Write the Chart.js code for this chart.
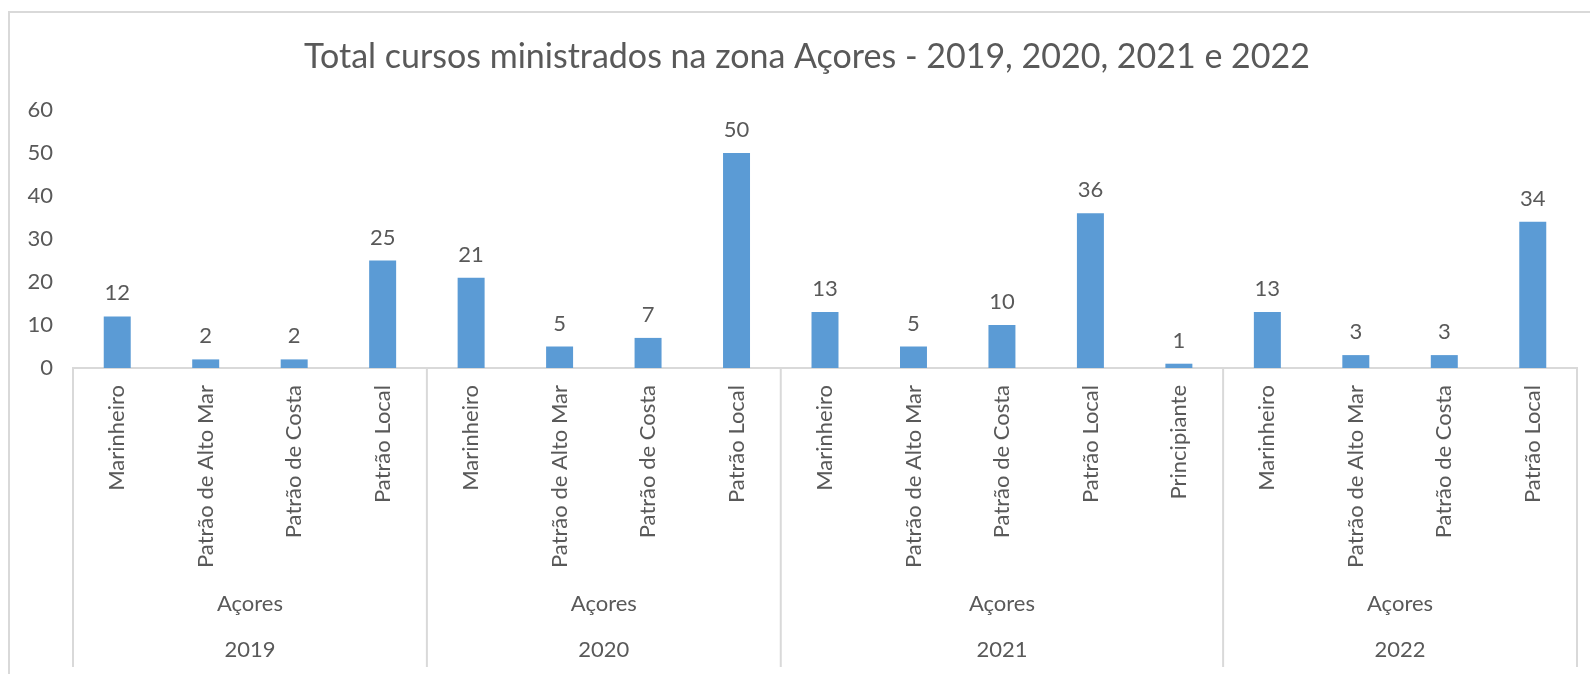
<!DOCTYPE html>
<html>
<head>
<meta charset="utf-8">
<script src="https://cdn.jsdelivr.net/npm/chart.js@4.4.1/dist/chart.umd.min.js"></script>
<style>
  html, body { margin: 0; padding: 0; background: #ffffff; overflow: hidden; }
  #wrap { position: relative; width: 1590px; height: 674px; }
</style>
</head>
<body>
<div id="wrap"><canvas id="c" width="1590" height="674"></canvas></div>
<script>
// ---- Data ----
const titleText = 'Total cursos ministrados na zona Açores - 2019, 2020, 2021 e 2022';
const categories = [
  'Marinheiro', 'Patrão de Alto Mar', 'Patrão de Costa', 'Patrão Local',
  'Marinheiro', 'Patrão de Alto Mar', 'Patrão de Costa', 'Patrão Local',
  'Marinheiro', 'Patrão de Alto Mar', 'Patrão de Costa', 'Patrão Local', 'Principiante',
  'Marinheiro', 'Patrão de Alto Mar', 'Patrão de Costa', 'Patrão Local'
];
const values = [12, 2, 2, 25, 21, 5, 7, 50, 13, 5, 10, 36, 1, 13, 3, 3, 34];
const years = ['2019', '2020', '2021', '2022'];
const groupSizes = [4, 4, 5, 4];
const region = 'Açores';
const yTicks = [0, 10, 20, 30, 40, 50, 60];

const FONT = 'Lato, "Open Sans", sans-serif';
const TEXT = '#595959';
const LINE = '#D9D9D9';

const decorPlugin = {
  id: 'decor',
  beforeDraw(chart) {
    const ctx = chart.ctx;
    ctx.save();
    ctx.fillStyle = '#ffffff';
    ctx.fillRect(0, 0, chart.width, chart.height);
    // outer chart frame
    ctx.strokeStyle = LINE;
    ctx.lineWidth = 2;
    ctx.beginPath();
    ctx.moveTo(9, chart.height + 5);
    ctx.lineTo(9, 12);
    ctx.lineTo(chart.width + 5, 12);
    ctx.stroke();
    // title
    ctx.fillStyle = TEXT;
    ctx.font = '34px ' + FONT;
    ctx.textAlign = 'center';
    ctx.textBaseline = 'alphabetic';
    ctx.fillText(titleText, 807, 68);
    ctx.restore();
  },
  afterDraw(chart) {
    const ctx = chart.ctx;
    const x = chart.scales.x;
    const area = chart.chartArea;
    const meta = chart.getDatasetMeta(0);
    ctx.save();
    // data labels
    ctx.fillStyle = TEXT;
    ctx.font = '22px ' + FONT;
    ctx.textAlign = 'center';
    ctx.textBaseline = 'middle';
    meta.data.forEach((bar, i) => {
      ctx.fillText(String(values[i]), bar.x, bar.y - 23);
    });
    // group dividers and group labels
    const yTop = x.top;
    const yBottom = 667;
    ctx.strokeStyle = LINE;
    ctx.lineWidth = 2;
    let start = 0;
    const edges = [area.left];
    groupSizes.forEach((n, g) => {
      const end = start + n;
      const right = end >= categories.length
        ? area.right
        : (x.getPixelForValue(end - 1) + x.getPixelForValue(end)) / 2;
      edges.push(right);
      start = end;
    });
    edges.forEach(ex => {
      ctx.beginPath();
      ctx.moveTo(ex, yTop);
      ctx.lineTo(ex, yBottom);
      ctx.stroke();
    });
    ctx.fillStyle = TEXT;
    ctx.font = '22px ' + FONT;
    for (let g = 0; g < years.length; g++) {
      const cx = (edges[g] + edges[g + 1]) / 2;
      ctx.fillText(region, cx, 604);
      ctx.fillText(years[g], cx, 650);
    }
    ctx.restore();
  }
};

new Chart(document.getElementById('c'), {
  type: 'bar',
  data: {
    labels: categories,
    datasets: [{
      data: values,
      backgroundColor: '#5B9BD5',
      borderWidth: 0,
      categoryPercentage: 1.0,
      barPercentage: 0.305
    }]
  },
  options: {
    responsive: false,
    animation: false,
    devicePixelRatio: 1,
    layout: { padding: { left: 0, top: 110, right: 13, bottom: 0 } },
    plugins: {
      legend: { display: false },
      title: { display: false },
      tooltip: { enabled: false }
    },
    scales: {
      x: {
        grid: { display: false, drawTicks: false },
        border: { display: true, color: LINE, width: 2 },
        ticks: {
          autoSkip: false,
          minRotation: 90,
          maxRotation: 90,
          padding: 17,
          color: TEXT,
          font: { family: FONT, size: 22 }
        },
        afterFit(scale) {
          scale.height = 306;
          scale.paddingLeft = 0;
          scale.paddingRight = 0;
        }
      },
      y: {
        min: 0,
        max: 60,
        afterBuildTicks(scale) {
          scale.ticks = yTicks.map(v => ({ value: v }));
        },
        grid: { display: false, drawTicks: false },
        border: { display: false },
        ticks: {
          padding: 20,
          color: TEXT,
          font: { family: FONT, size: 22 }
        },
        afterFit(scale) {
          scale.width = 73;
        }
      }
    }
  },
  plugins: [decorPlugin]
});
</script>
</body>
</html>
